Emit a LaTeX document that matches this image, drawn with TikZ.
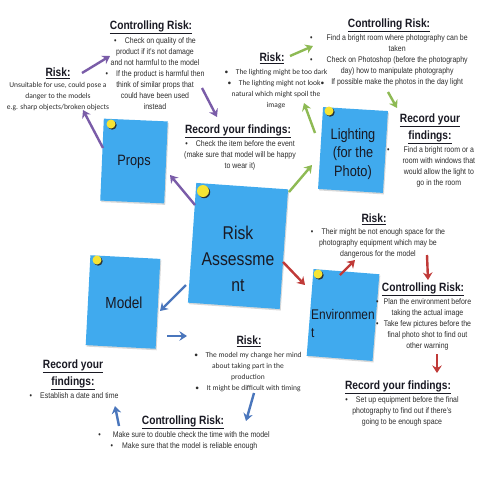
\documentclass[tikz,border=0pt]{standalone}
\usepackage{fontspec}
\setmainfont{Liberation Sans}[FakeStretch=0.85]
\newfontfamily\calfont{Carlito}
\usetikzlibrary{arrows.meta,positioning,shadows}
\definecolor{noteblue}{RGB}{64,170,238}
\definecolor{tackyellow}{RGB}{246,228,52}
\definecolor{inkdark}{RGB}{25,25,35}
\definecolor{bodygray}{RGB}{45,45,45}
\definecolor{rkpurple}{RGB}{122,92,168}
\definecolor{rkgreen}{RGB}{142,186,84}
\definecolor{rkred}{RGB}{192,58,56}
\definecolor{rkblue}{RGB}{74,118,188}

\begin{document}
\begin{tikzpicture}[x=1pt, y=-1pt,
  note/.style={rectangle, fill=noteblue, inner sep=0pt,
               drop shadow={shadow xshift=1pt, shadow yshift=-1.5pt, opacity=.3}},
  notetxt/.style={inner sep=0pt, align=center, text=inkdark},
  tack/.style={circle, fill=tackyellow, inner sep=0pt, minimum size=#1,
               drop shadow={shadow xshift=1.2pt, shadow yshift=-1.2pt, fill=black!85, opacity=.9}},
  ttl/.style={inner sep=0pt, anchor=north, align=center, text=inkdark,
              font=\bfseries\fontsize{12}{17}\selectfont},
  txt/.style={inner sep=0pt, anchor=north, align=center, text=bodygray,
              font=\fontsize{8.2}{11}\selectfont},
  ctxt/.style={txt, font=\calfont\fontsize{7.5}{11}\selectfont},
  arr/.style={-{Stealth[length=7.5pt, width=9.5pt]}, line width=2.4pt, draw=#1}
]
  \fill[white] (0,0) rectangle (480,480);
  \useasboundingbox (0,0) rectangle (480,480);

  % sticky notes
  \node[note, minimum width=64pt, minimum height=82pt, rotate=-2.5] (props) at (134,161) {};
  \node[notetxt, font=\fontsize{15}{18}\selectfont] (propsT) at (134,162) {Props};
  \node[tack=9pt] (propsPin) at (111,124) {};

  \node[note, minimum width=92pt, minimum height=120pt, rotate=-4] (ra) at (238,246) {};
  \node[notetxt, font=\fontsize{18.5}{26}\selectfont] (raT) at (238,259) {Risk\\Assessme\\nt};
  \node[tack=12pt] (raPin) at (203,191) {};

  \node[note, minimum width=65pt, minimum height=82pt, rotate=-3.5] (light) at (353,150) {};
  \node[notetxt, font=\fontsize{15}{18.5}\selectfont] (lightT) at (353,154) {Lighting\\(for the\\Photo)};
  \node[tack=9pt] (lightPin) at (329,111) {};

  \node[note, minimum width=70pt, minimum height=90pt, rotate=-3] (model) at (123,302) {};
  \node[notetxt, font=\fontsize{16}{19}\selectfont] (modelT) at (124,303) {Model};
  \node[tack=9pt] (modelPin) at (97,260) {};

  \node[note, minimum width=66pt, minimum height=87pt, rotate=-4.5] (env) at (343,315) {};
  \node[notetxt, align=left, anchor=north west, font=\fontsize{14}{18}\selectfont] (envT) at (311,309) {Environmen\\t};
  \node[tack=9pt] (envPin) at (318,274) {};

  % props branch
  \node[ttl] (prRiskT) at (58,67.5) {\underline{Risk:}};
  \node[ctxt] (prRiskB) at (58,82.5) {Unsuitable for use, could pose a\\danger to the models\\e.g. sharp objects/broken objects};
  \node[ttl] (prCtrlT) at (151,20.5) {\underline{Controlling Risk:}};
  \node[txt] (prCtrlB) at (155,37) {•\quad Check on quality of the\\product if it's not damage\\and not harmful to the model\\•\quad If the product is harmful then\\think of similar props that\\could have been used\\instead};
  \node[ttl] (prRecT) at (238,124.5) {\underline{Record your findings:}};
  \node[txt] (prRecB) at (240,140) {•\quad Check the item before the event\\(make sure that model will be happy\\to wear it)};
  \coordinate (p1s) at (195,205); \coordinate (p1e) at (170,175);
  \coordinate (p2s) at (103,148); \coordinate (p2e) at (83,110);
  \coordinate (p3s) at (82,73);   \coordinate (p3e) at (110,56);
  \coordinate (p4s) at (202,88);  \coordinate (p4e) at (217,117);
  \draw[arr=rkpurple] (p1s) -- (p1e);
  \draw[arr=rkpurple] (p2s) -- (p2e);
  \draw[arr=rkpurple] (p3s) -- (p3e);
  \draw[arr=rkpurple] (p4s) -- (p4e);

  % lighting branch
  \node[ttl] (liRiskT) at (272,52.5) {\underline{Risk:}};
  \node[ctxt] (liRiskB) at (276,69.5) {•\quad The lighting might be too dark\\•\quad The lighting might not look•\\natural which might spoil the\\image};
  \node[ttl] (liCtrlT) at (389,18.5) {\underline{Controlling Risk:}};
  \node[txt, anchor=north west] (liCtrlB) at (310,32.5) {\begin{tabular}{@{}c@{\hspace{14pt}}c@{}}
    •&Find a bright room where photography can be\\&taken\\
    •&Check on Photoshop (before the photography\\&day) how to manipulate photography\\
    &If possible make the photos in the day light\end{tabular}};
  \node[ttl] (liRecT) at (430,113.5) {\underline{Record your}\\\underline{findings:}};
  \node[txt, anchor=north west] (liRecB) at (387,144.5) {\begin{tabular}{@{}c@{\hspace{13pt}}c@{}}
    •&Find a bright room or a\\&room with windows that\\&would allow the light to\\&go in the room\end{tabular}};
  \coordinate (g1s) at (289,192); \coordinate (g1e) at (312,165);
  \coordinate (g2s) at (315,133); \coordinate (g2e) at (304,103);
  \coordinate (g3s) at (290,56);  \coordinate (g3e) at (313,46);
  \coordinate (g4s) at (388,92);  \coordinate (g4e) at (397,108);
  \draw[arr=rkgreen] (g1s) -- (g1e);
  \draw[arr=rkgreen] (g2s) -- (g2e);
  \draw[arr=rkgreen] (g3s) -- (g3e);
  \draw[arr=rkgreen] (g4s) -- (g4e);

  % environment branch
  \node[ttl] (enRiskT) at (374,213.5) {\underline{Risk:}};
  \node[txt] (enRiskB) at (378,228) {•\quad Their might be not enough space for the\\photography equipment which may be\\dangerous for the model};
  \node[ttl] (enCtrlT) at (423,282.5) {\underline{Controlling Risk:}};
  \node[txt, anchor=north west] (enCtrlB) at (376,297) {\begin{tabular}{@{}c@{\hspace{5pt}}c@{}}
    •&Plan the environment before\\&taking the actual image\\
    •&Take few pictures before the\\&final photo shot to find out\\&other warning\end{tabular}};
  \node[ttl] (enRecT) at (398,380.5) {\underline{Record your findings:}};
  \node[txt] (enRecB) at (402,396) {•\quad Set up equipment before the final\\photography to find out if there's\\going to be enough space};
  \coordinate (r1s) at (283,262); \coordinate (r1e) at (305,285);
  \coordinate (r2s) at (340,275); \coordinate (r2e) at (355,260);
  \coordinate (r3s) at (427,255); \coordinate (r3e) at (428,280);
  \coordinate (r4s) at (437,354); \coordinate (r4e) at (437,373);
  \draw[arr=rkred] (r1s) -- (r1e);
  \draw[arr=rkred] (r2s) -- (r2e);
  \draw[arr=rkred] (r3s) -- (r3e);
  \draw[arr=rkred] (r4s) -- (r4e);

  % model branch
  \node[ttl] (moRiskT) at (249,335.5) {\underline{Risk:}};
  \node[ctxt] (moRiskB) at (248,352) {•\quad The model my change her mind\\about taking part in the\\production\\•\quad It might be difficult with timing};
  \node[ttl] (moCtrlT) at (183,415.5) {\underline{Controlling Risk:}};
  \node[txt] (moCtrlB) at (184,431) {•\hspace{12pt}Make sure to double check the time with the model\\•\hspace{9pt}Make sure that the model is reliable enough};
  \node[ttl] (moRecT) at (73,359.5) {\underline{Record your}\\\underline{findings:}};
  \node[txt] (moRecB) at (74,392.5) {•\quad Establish a date and time};
  \coordinate (b1s) at (186,285); \coordinate (b1e) at (160,311);
  \coordinate (b2s) at (167,336); \coordinate (b2e) at (187,336);
  \coordinate (b3s) at (254,393); \coordinate (b3e) at (246,421);
  \coordinate (b4s) at (119,426); \coordinate (b4e) at (115,406);
  \draw[arr=rkblue] (b1s) -- (b1e);
  \draw[arr=rkblue] (b2s) -- (b2e);
  \draw[arr=rkblue] (b3s) -- (b3e);
  \draw[arr=rkblue] (b4s) -- (b4e);
\end{tikzpicture}
\end{document}
